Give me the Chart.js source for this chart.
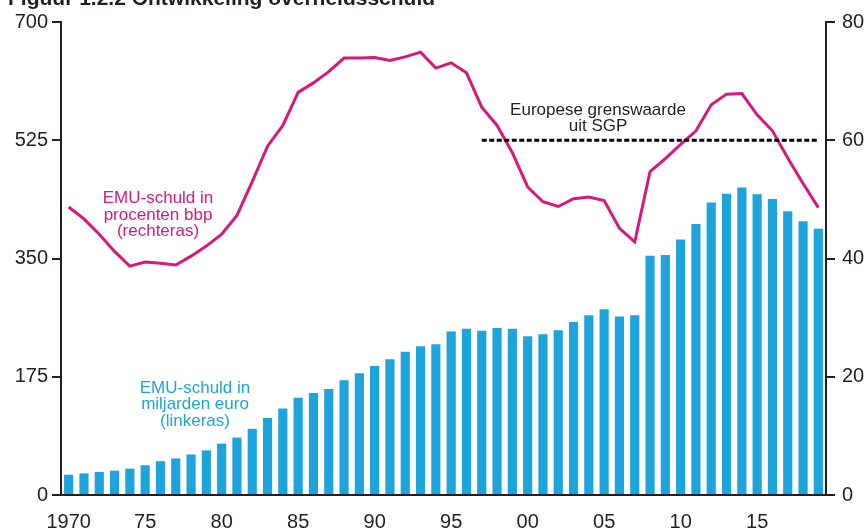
<!DOCTYPE html>
<html>
<head>
<meta charset="utf-8">
<script src="https://cdn.jsdelivr.net/npm/chart.js@4"></script>
<style>
  html, body { margin: 0; padding: 0; background: #fff; }
  #wrap { position: relative; width: 864px; height: 531px; }
</style>
</head>
<body>
<div id="wrap"><canvas id="chart" width="864" height="531"></canvas></div>
<script>
const years = [
  1970, 1971, 1972, 1973, 1974, 1975, 1976, 1977, 1978, 1979,
  1980, 1981, 1982, 1983, 1984, 1985, 1986, 1987, 1988, 1989,
  1990, 1991, 1992, 1993, 1994, 1995, 1996, 1997, 1998, 1999,
  2000, 2001, 2002, 2003, 2004, 2005, 2006, 2007, 2008, 2009,
  2010, 2011, 2012, 2013, 2014, 2015, 2016, 2017, 2018, 2019
];

// EMU-schuld in miljarden euro (linkeras)
const debtBillions = [
  30, 32, 34, 36, 39, 44, 50, 54, 60, 66,
  76, 85, 98, 114, 128, 144, 151, 157, 170, 180,
  191, 201, 212, 220, 223, 242, 246, 243, 247, 246,
  235, 238, 244, 256, 266, 275, 264, 266, 354, 355,
  378, 401, 433, 446, 455, 445, 438, 420, 405, 394
];

// EMU-schuld in procenten bbp (rechteras)
const debtPctGdp = [
  48.7, 46.7, 44.1, 41.2, 38.7, 39.4, 39.2, 38.9, 40.4, 42.1,
  44.1, 47.3, 53.0, 59.0, 62.5, 68.1, 69.7, 71.6, 73.9, 73.9,
  74.0, 73.5, 74.1, 74.9, 72.2, 73.1, 71.4, 65.6, 62.5, 57.9,
  52.1, 49.6, 48.8, 50.1, 50.4, 49.8, 45.1, 42.8, 54.7, 56.9,
  59.3, 61.6, 66.0, 67.8, 67.9, 64.3, 61.6, 57.0, 52.7, 48.6
];

// Europese grenswaarde uit SGP
const sgpFromYear = 1997;
const sgpValue = 60;

const leftTicks = [0, 175, 350, 525, 700];
const rightTicks = [0, 20, 40, 60, 80];
const xTickYears = [1970, 1975, 1980, 1985, 1990, 1995, 2000, 2005, 2010, 2015];
const xTickText = ['1970', '75', '80', '85', '90', '95', '00', '05', '10', '15'];

const INK = '#231f20';
const BLUE = '#1ea4dc';
const MAGENTA = '#d6197b';
const FONT = '"Liberation Sans", Arial, sans-serif';

const sgpLine = years.map(y => (y >= sgpFromYear ? sgpValue : null));

const textPlugin = {
  id: 'texts',
  afterDraw(chart) {
    const ctx = chart.ctx;
    ctx.save();
    ctx.textBaseline = 'alphabetic';

    ctx.fillStyle = INK;
    ctx.textAlign = 'left';
    ctx.font = 'bold 21px ' + FONT;
    ctx.fillText('Figuur 1.2.2 Ontwikkeling overheidsschuld', 8, 5);

    ctx.textAlign = 'center';
    ctx.font = '17px ' + FONT;
    ctx.fillText('Europese grenswaarde', 598, 115);
    ctx.fillText('uit SGP', 598, 131);

    ctx.fillStyle = MAGENTA;
    ctx.fillText('EMU-schuld in', 158, 203);
    ctx.fillText('procenten bbp', 158, 220);
    ctx.fillText('(rechteras)', 158, 236);

    ctx.fillStyle = BLUE;
    ctx.fillText('EMU-schuld in', 195, 393);
    ctx.fillText('miljarden euro', 195, 409);
    ctx.fillText('(linkeras)', 195, 426);
    ctx.restore();
  }
};

const tickFont = { family: FONT, size: 20 };

new Chart(document.getElementById('chart'), {
  data: {
    labels: years,
    datasets: [
      {
        type: 'line',
        data: sgpLine,
        yAxisID: 'yR',
        borderColor: '#000',
        borderWidth: 3,
        borderDash: [5, 2.5],
        pointRadius: 0,
        spanGaps: false,
        order: 0
      },
      {
        type: 'line',
        data: debtPctGdp,
        yAxisID: 'yR',
        borderColor: MAGENTA,
        borderWidth: 3,
        pointRadius: 0,
        tension: 0,
        order: 1
      },
      {
        type: 'bar',
        data: debtBillions,
        yAxisID: 'yL',
        backgroundColor: BLUE,
        barPercentage: 0.6,
        categoryPercentage: 1,
        order: 2
      }
    ]
  },
  options: {
    responsive: false,
    animation: false,
    devicePixelRatio: 1,
    layout: { padding: { top: 22, left: 0, right: 0, bottom: 0 } },
    plugins: {
      legend: { display: false },
      tooltip: { enabled: false },
      title: { display: false }
    },
    scales: {
      x: {
        type: 'category',
        offset: true,
        grid: { display: false },
        border: { display: true, color: INK, width: 2 },
        ticks: {
          autoSkip: false,
          maxRotation: 0,
          padding: 7,
          color: INK,
          font: tickFont,
          callback(value, index) {
            const i = xTickYears.indexOf(years[index]);
            return i >= 0 ? xTickText[i] : '';
          }
        },
        afterFit(scale) { scale.height = 36; }
      },
      yL: {
        position: 'left',
        min: 0,
        max: 700,
        afterBuildTicks(scale) { scale.ticks = leftTicks.map(v => ({ value: v })); },
        grid: { drawOnChartArea: false, drawTicks: true, tickLength: 9, color: INK, lineWidth: 2 },
        border: { display: true, color: INK, width: 2 },
        ticks: { padding: 4, color: INK, font: tickFont },
        afterFit(scale) { scale.width = 61; }
      },
      yR: {
        position: 'right',
        min: 0,
        max: 80,
        afterBuildTicks(scale) { scale.ticks = rightTicks.map(v => ({ value: v })); },
        grid: { drawOnChartArea: false, drawTicks: true, tickLength: 9, color: INK, lineWidth: 2 },
        border: { display: true, color: INK, width: 2 },
        ticks: { padding: 7, color: INK, font: tickFont },
        afterFit(scale) { scale.width = 38; }
      }
    }
  },
  plugins: [textPlugin]
});
</script>
</body>
</html>
